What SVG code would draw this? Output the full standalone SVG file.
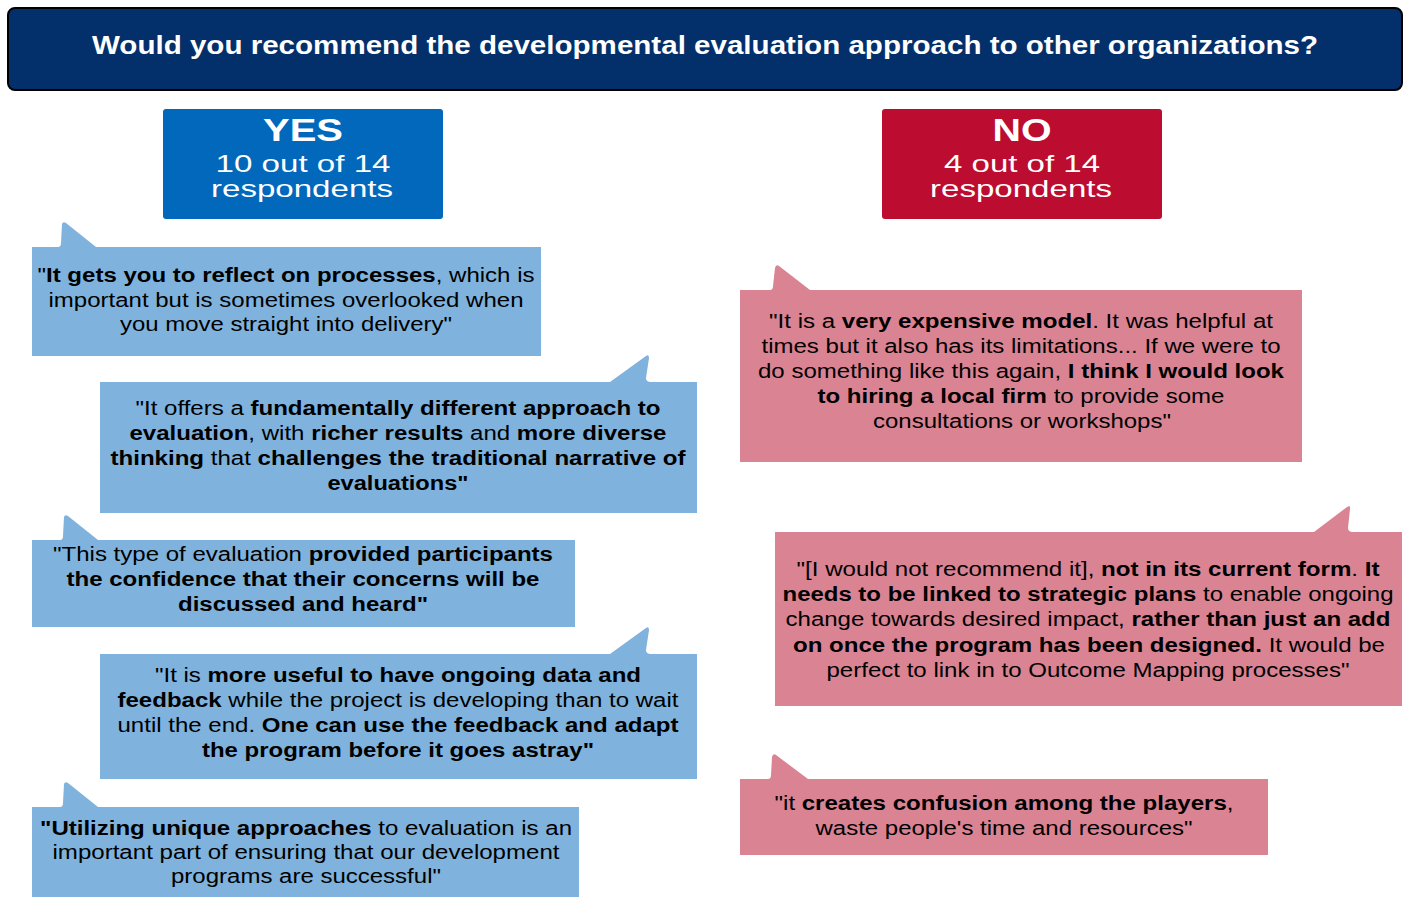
<svg xmlns="http://www.w3.org/2000/svg" width="1406" height="897" viewBox="0 0 1406 897">
<style>
.blue{fill:#7fb2dc}
.pink{fill:#da8393}
.t{font-family:"Liberation Sans",Arial,sans-serif;font-size:20px;fill:#000;text-anchor:middle}
.b{font-weight:bold}
.hw{font-family:"Liberation Sans",Arial,sans-serif;fill:#fff;text-anchor:middle}
</style>
<rect width="1406" height="897" fill="#fff"/>
<g id="header">
<rect x="8" y="8" width="1394" height="82" rx="7" fill="#03306b" stroke="#000" stroke-width="2"/>
<text class="hw b" x="705" y="54" font-size="25" textLength="1226" lengthAdjust="spacingAndGlyphs">Would you recommend the developmental evaluation approach to other organizations?</text>
</g>
<g id="yes">
<rect x="163" y="109" width="280" height="110" rx="3" fill="#0168bb"/>
<text class="hw b" x="303" y="141" font-size="32" textLength="80" lengthAdjust="spacingAndGlyphs">YES</text>
<text class="hw" x="303" y="172" font-size="24" textLength="175" lengthAdjust="spacingAndGlyphs">10 out of 14</text>
<text class="hw" x="302" y="197" font-size="24" textLength="182" lengthAdjust="spacingAndGlyphs">respondents</text>
</g>
<g id="no">
<rect x="882" y="109" width="280" height="110" rx="3" fill="#bc0c2f"/>
<text class="hw b" x="1022" y="141" font-size="32" textLength="59" lengthAdjust="spacingAndGlyphs">NO</text>
<text class="hw" x="1022" y="172" font-size="24" textLength="156" lengthAdjust="spacingAndGlyphs">4 out of 14</text>
<text class="hw" x="1021" y="197" font-size="24" textLength="182" lengthAdjust="spacingAndGlyphs">respondents</text>
</g>
<g id="yes1">
<path class="blue" d="M32,247 H58 Q61,247 61,243 L62,224 Q63,221 66,223 L96,247 H541 V356 H32 Z"/>
<text class="t" x="286" y="282" textLength="497" lengthAdjust="spacingAndGlyphs">"<tspan class="b">It gets you to reflect on processes</tspan>, which is</text>
<text class="t" x="286" y="307" textLength="475" lengthAdjust="spacingAndGlyphs">important but is sometimes overlooked when</text>
<text class="t" x="286" y="331" textLength="332" lengthAdjust="spacingAndGlyphs">you move straight into delivery"</text>
</g>
<g id="yes2">
<path class="blue" d="M100,382 H610 L646,356 Q649,354 649,358 L646,378 Q646,382 651,382 H697 V513 H100 Z"/>
<text class="t" x="398" y="415" textLength="525" lengthAdjust="spacingAndGlyphs">"It offers a <tspan class="b">fundamentally different approach to</tspan></text>
<text class="t" x="398" y="440" textLength="537" lengthAdjust="spacingAndGlyphs"><tspan class="b">evaluation</tspan>, with <tspan class="b">richer results</tspan> and <tspan class="b">more diverse</tspan></text>
<text class="t" x="398" y="465" textLength="575" lengthAdjust="spacingAndGlyphs"><tspan class="b">thinking</tspan> that <tspan class="b">challenges the traditional narrative of</tspan></text>
<text class="t b" x="398" y="490" textLength="141" lengthAdjust="spacingAndGlyphs">evaluations"</text>
</g>
<g id="yes3">
<path class="blue" d="M32,540 H60 Q63,540 63,536 L64,517 Q65,514 68,516 L98,540 H575 V627 H32 Z"/>
<text class="t" x="303" y="561" textLength="500" lengthAdjust="spacingAndGlyphs">"This type of evaluation <tspan class="b">provided participants</tspan></text>
<text class="t b" x="303" y="586" textLength="473" lengthAdjust="spacingAndGlyphs">the confidence that their concerns will be</text>
<text class="t b" x="303" y="611" textLength="250" lengthAdjust="spacingAndGlyphs">discussed and heard"</text>
</g>
<g id="yes4">
<path class="blue" d="M100,654 H610 L646,628 Q649,626 649,630 L646,650 Q646,654 651,654 H697 V779 H100 Z"/>
<text class="t" x="398" y="682" textLength="486" lengthAdjust="spacingAndGlyphs">"It is <tspan class="b">more useful to have ongoing data and</tspan></text>
<text class="t" x="398" y="707" textLength="561" lengthAdjust="spacingAndGlyphs"><tspan class="b">feedback</tspan> while the project is developing than to wait</text>
<text class="t" x="398" y="732" textLength="561" lengthAdjust="spacingAndGlyphs">until the end. <tspan class="b">One can use the feedback and adapt</tspan></text>
<text class="t b" x="398" y="757" textLength="392" lengthAdjust="spacingAndGlyphs">the program before it goes astray"</text>
</g>
<g id="yes5">
<path class="blue" d="M32,807 H60 Q63,807 63,803 L64,784 Q65,781 68,783 L98,807 H579 V897 H32 Z"/>
<text class="t" x="306" y="835" textLength="532" lengthAdjust="spacingAndGlyphs"><tspan class="b">"Utilizing unique approaches</tspan> to evaluation is an</text>
<text class="t" x="306" y="859" textLength="507" lengthAdjust="spacingAndGlyphs">important part of ensuring that our development</text>
<text class="t" x="306" y="883" textLength="270" lengthAdjust="spacingAndGlyphs">programs are successful"</text>
</g>
<g id="no1">
<path class="pink" d="M740,290 H770 Q773,290 773,286 L775,268 Q776,264 779,266 L810,290 H1302 V462 H740 Z"/>
<text class="t" x="1021" y="328" textLength="504" lengthAdjust="spacingAndGlyphs">"It is a <tspan class="b">very expensive model</tspan>. It was helpful at</text>
<text class="t" x="1021" y="353" textLength="519" lengthAdjust="spacingAndGlyphs">times but it also has its limitations... If we were to</text>
<text class="t" x="1021" y="378" textLength="526" lengthAdjust="spacingAndGlyphs">do something like this again, <tspan class="b">I think I would look</tspan></text>
<text class="t" x="1021" y="403" textLength="407" lengthAdjust="spacingAndGlyphs"><tspan class="b">to hiring a local firm</tspan> to provide some</text>
<text class="t" x="1022" y="428" textLength="298" lengthAdjust="spacingAndGlyphs">consultations or workshops"</text>
</g>
<g id="no2">
<path class="pink" d="M775,532 H1314 L1347,507 Q1351,505 1350,509 L1348,528 Q1348,532 1353,532 H1402 V706 H775 Z"/>
<text class="t" x="1088" y="576" textLength="583" lengthAdjust="spacingAndGlyphs">"[I would not recommend it], <tspan class="b">not in its current form</tspan>. <tspan class="b">It</tspan></text>
<text class="t" x="1088" y="601" textLength="611" lengthAdjust="spacingAndGlyphs"><tspan class="b">needs to be linked to strategic plans</tspan> to enable ongoing</text>
<text class="t" x="1088" y="626" textLength="605" lengthAdjust="spacingAndGlyphs">change towards desired impact, <tspan class="b">rather than just an add</tspan></text>
<text class="t" x="1089" y="652" textLength="592" lengthAdjust="spacingAndGlyphs"><tspan class="b">on once the program has been designed.</tspan> It would be</text>
<text class="t" x="1088" y="677" textLength="523" lengthAdjust="spacingAndGlyphs">perfect to link in to Outcome Mapping processes"</text>
</g>
<g id="no3">
<path class="pink" d="M740,779 H768 Q771,779 771,775 L772,757 Q773,753 776,755 L808,779 H1268 V855 H740 Z"/>
<text class="t" x="1004" y="810" textLength="459" lengthAdjust="spacingAndGlyphs">"it <tspan class="b">creates confusion among the players</tspan>,</text>
<text class="t" x="1004" y="835" textLength="377" lengthAdjust="spacingAndGlyphs">waste people's time and resources"</text>
</g>
<g id="connectors"/>
</svg>
